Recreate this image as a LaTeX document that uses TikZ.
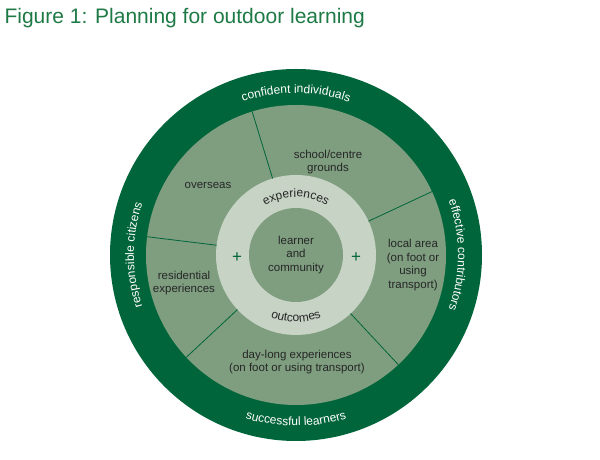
\documentclass[tikz,border=0pt]{standalone}
\usepackage{fontspec}
\setmainfont{Liberation Sans}
\usepackage{xcolor}
\usetikzlibrary{decorations.text,calc}
\definecolor{ringgreen}{HTML}{00653A}
\definecolor{midgreen}{HTML}{7F9E80}
\definecolor{palegreen}{HTML}{C7D3C5}
\definecolor{titlegreen}{HTML}{1E7A45}
\tikzset{
  ringtext/.style={decorate, decoration={text along path, text align=center,
    text={|\fontsize{12}{14}\selectfont\color{white}|#1}}},
  innertext/.style={decorate, decoration={text along path, text align=center,
    text={|\fontsize{12}{14}\selectfont\color{black!85}|#1}}},
  sector/.style={align=center, font=\fontsize{11.5}{13.5}\selectfont, text=black!85}
}
\begin{document}
\begin{tikzpicture}[x=1pt,y=1pt]
    \useasboundingbox (0,0) rectangle (600,460);
    \coordinate (c) at (296,205);

    % Title
    \node[anchor=west, text=titlegreen, font=\fontsize{21}{25}\selectfont] (title) at (1,442) {Figure 1: Planning for outdoor learning};

    % Rings
    \fill[ringgreen] (c) circle (186);
    \fill[midgreen] (c) circle (150);
    \fill[palegreen] (c) circle (80);
    \fill[midgreen] (c) circle (47);

    % Sector dividers
    \foreach \a in {107,25,173,223,313}
        \draw[ringgreen, thick] ($(c)+(\a:80)$) -- ($(c)+(\a:150)$);

    % Outer ring labels
    \path[ringtext={confident individuals}] (c) ++(135:162) arc (135:45:162);
    \path[ringtext={effective contributors}] (c) ++(45:162) arc (45:-45:162);
    \path[ringtext={successful learners}] (c) ++(230:171) arc (230:310:171);
    \path[ringtext={responsible citizens}] (c) ++(225:162) arc (225:135:162);

    % Inner ring labels
    \path[innertext={experiences}] (c) ++(150:58) arc (150:30:58);
    \path[innertext={outcomes}] (c) ++(225:67) arc (225:315:67);

    % Sector texts
    \node[sector] (grounds) at (328,298) {school/centre\\grounds};
    \node[sector] (overseas) at (208,275) {overseas};
    \node[sector] (local) at (413,195) {local area\\(on foot or\\using\\transport)};
    \node[sector] (residential) at (184,177) {residential\\experiences};
    \node[sector] (daylong) at (297,98) {day-long experiences\\(on foot or using transport)};
    \node[sector] (learner) at (c) {learner\\and\\community};
    \node[font=\fontsize{17}{17}\selectfont, text=ringgreen] (plusl) at (237,202) {+};
    \node[font=\fontsize{17}{17}\selectfont, text=ringgreen] (plusr) at (356,202) {+};
\end{tikzpicture}
\end{document}
